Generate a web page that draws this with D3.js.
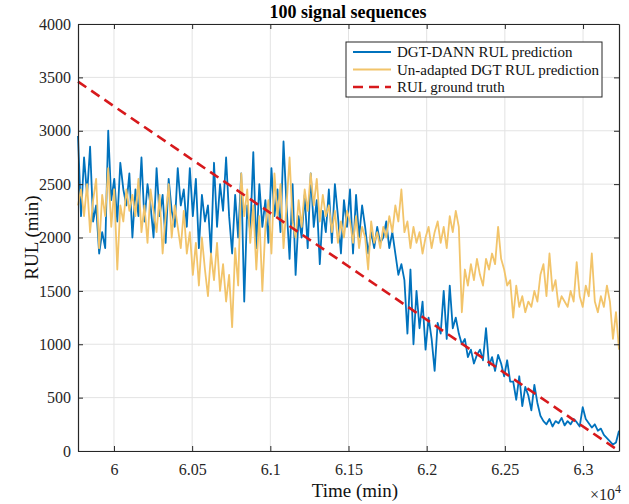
<!DOCTYPE html>
<html>
<head>
<meta charset="utf-8">
<script src="https://cdn.jsdelivr.net/npm/d3@7"></script>
<style>
  body { margin: 0; background: #fff; }
</style>
</head>
<body>
<div id="chart"></div>
<script>
// time range covered by the sequences (min)
var timeStart = 59770, timeEnd = 63230;

var xTicks = [60000, 60500, 61000, 61500, 62000, 62500, 63000];
var xTickLabels = ["6", "6.05", "6.1", "6.15", "6.2", "6.25", "6.3"];
var yTicks = [0, 500, 1000, 1500, 2000, 2500, 3000, 3500, 4000];

// DGT-DANN RUL prediction (equally spaced samples)
var dannRUL = [
  2950, 2200, 2750, 2400, 2850, 2150, 2300, 1850, 2050, 1900, 3000, 2350, 2550, 2150, 2700, 2450, 2300, 2600,
  2000, 2450, 2200, 2750, 2150, 2500, 2300, 2000, 2650, 2200, 2400, 1950, 2550, 2250, 2100, 2650, 2300, 2450,
  2100, 2650, 2200, 2550, 1900, 2400, 2150, 2300, 1850, 2700, 2100, 2500, 2250, 2750, 2200, 1850, 2400, 2000,
  2600, 1400, 2300, 2050, 2800, 1900, 2500, 2100, 2350, 1950, 2650, 2200, 2450, 2050, 2900, 2300, 1800, 2500,
  1650, 2200, 2000, 2400, 1900, 2600, 2100, 2350, 1750, 2250, 2050, 2450, 1950, 2500, 2200, 1850, 2350, 2100,
  2450, 1850, 2400, 2000, 2300, 2100, 1850, 2050, 1900, 2100, 1950, 2000, 2150, 1900, 2050, 1850, 1650, 1750,
  1600, 1100, 1700, 1000, 1500, 1150, 1400, 950, 1250, 1050, 750, 1200, 1100, 1500, 1050, 1550, 1150, 1250,
  1100, 1000, 1050, 880, 950, 820, 900, 950, 850, 1150, 800, 880, 750, 900, 820, 700, 850, 650,
  650, 480, 700, 420, 600, 520, 380, 620, 450, 330, 280, 250, 300, 230, 280, 260, 310, 240,
  280, 250, 300, 270, 230, 410, 300, 260, 220, 250, 190, 210, 150, 120, 90, 60, 80, 190
];

// Un-adapted DGT RUL prediction
var dgtRUL = [
  2300, 2450, 2200, 2500, 2050, 2350, 2550, 1900, 2400, 2200, 2650, 2100, 2450, 1700, 2300, 2150, 2450, 2250,
  2400, 2200, 2550, 2050, 2300, 1950, 2450, 2250, 2050, 2400, 1850, 2200, 2500, 2000, 2300, 2100, 1900, 2250,
  1850, 2050, 1650, 1950, 1550, 2000, 1700, 1450, 1850, 1600, 1950, 1500, 1750, 1400, 1650, 1160, 1900, 1550,
  2600, 2200, 2450, 1950, 2300, 1700, 2200, 1500, 2100, 2350, 1850, 2600, 2200, 2500, 1900, 2300, 2750, 2150,
  2000, 2350, 2100, 2450, 2250, 2600, 2300, 2550, 2150, 2400, 2200, 2300, 2050, 2250, 1950, 2150, 2000, 2250,
  2150, 1950, 2200, 1900, 2100, 2000, 1700, 2150, 1950, 2050, 1900, 2100, 2000, 2200, 2050, 2300, 2150, 2450,
  2050, 2150, 1900, 2100, 1950, 2050, 1850, 2000, 2100, 1900, 2050, 2150, 1950, 2100, 1900, 2200, 2050, 2250,
  2100, 1300, 1700, 1550, 1750, 1600, 1800, 1650, 1550, 1800, 1700, 1850, 1750, 2100, 1800, 1700, 1550, 1600,
  1250, 1550, 1350, 1450, 1300, 1400, 1350, 1500, 1400, 1650, 1750, 1450, 1850, 1500, 1600, 1350, 1450, 1400,
  1350, 1500, 1400, 1770, 1450, 1350, 1550, 1450, 1850, 1400, 1300, 1450, 1350, 1550, 1400, 1050, 1300, 950
];

// RUL ground truth (straight line)
var truthTime = [59770, 63230];
var truthRUL = [3460, 0];

var legendLabels = ["DGT-DANN RUL prediction", "Un-adapted DGT RUL prediction", "RUL ground truth"];
var colors = ["#0072BD", "#F2C46A", "#D7191C"];

var serif = "'Liberation Serif', 'Times New Roman', serif";
var width = 629, height = 504;
var margin = { top: 24, right: 10, bottom: 53, left: 78 };
var w = width - margin.left - margin.right;
var h = height - margin.top - margin.bottom;

var svg = d3.select("#chart").append("svg")
    .attr("width", width)
    .attr("height", height)
    .attr("font-family", serif);

var g = svg.append("g")
    .attr("transform", "translate(" + margin.left + "," + margin.top + ")");

var x = d3.scaleLinear().domain([timeStart, timeEnd]).range([0, w]);
var y = d3.scaleLinear().domain([0, 4000]).range([h, 0]);

// grid
g.append("g").selectAll("line").data(xTicks).join("line")
    .attr("x1", function(d) { return x(d); }).attr("x2", function(d) { return x(d); })
    .attr("y1", 0).attr("y2", h)
    .attr("stroke", "#e3e3e3").attr("stroke-width", 1);
g.append("g").selectAll("line").data(yTicks).join("line")
    .attr("y1", function(d) { return y(d); }).attr("y2", function(d) { return y(d); })
    .attr("x1", 0).attr("x2", w)
    .attr("stroke", "#e3e3e3").attr("stroke-width", 1);

// series
function seriesLine(vals) {
    var ix = d3.scaleLinear().domain([0, vals.length - 1]).range([timeStart, timeEnd]);
    return d3.line()
        .x(function(d, i) { return x(ix(i)); })
        .y(function(d) { return y(d); })(vals);
}

var plot = g.append("g");
plot.append("path").attr("d", seriesLine(dannRUL))
    .attr("fill", "none").attr("stroke", colors[0]).attr("stroke-width", 1.8)
    .attr("stroke-linejoin", "round");
plot.append("path").attr("d", seriesLine(dgtRUL))
    .attr("fill", "none").attr("stroke", colors[1]).attr("stroke-width", 1.8)
    .attr("stroke-linejoin", "round");
plot.append("path")
    .attr("d", d3.line()
        .x(function(d, i) { return x(truthTime[i]); })
        .y(function(d) { return y(d); })(truthRUL))
    .attr("fill", "none").attr("stroke", colors[2]).attr("stroke-width", 2.6)
    .attr("stroke-dasharray", "10,6");

// axes, MATLAB style box with inward ticks
var axisColor = "#262626";
var xAxis = d3.axisBottom(x).tickValues(xTicks).tickSizeInner(-5).tickSizeOuter(0)
    .tickFormat(function(d, i) { return xTickLabels[i]; }).tickPadding(13);
var yAxis = d3.axisLeft(y).tickValues(yTicks).tickSizeInner(-5).tickSizeOuter(0)
    .tickFormat(d3.format("d")).tickPadding(7);

g.append("g").attr("transform", "translate(0," + h + ")").call(xAxis);
g.append("g").call(yAxis);
g.append("g").call(d3.axisTop(x).tickValues(xTicks).tickSizeInner(-5).tickSizeOuter(0).tickFormat(""));
g.append("g").attr("transform", "translate(" + w + ",0)")
    .call(d3.axisRight(y).tickValues(yTicks).tickSizeInner(-5).tickSizeOuter(0).tickFormat(""));

g.selectAll(".domain").attr("stroke", axisColor).attr("stroke-width", 1.2);
g.selectAll(".tick line").attr("stroke", axisColor);
g.selectAll(".tick text").attr("fill", "#262626")
    .attr("font-size", 16).attr("font-family", serif);

// labels
svg.append("text").attr("x", 348).attr("y", 18)
    .attr("text-anchor", "middle").attr("font-size", 18).attr("font-weight", "bold")
    .attr("fill", "#000")
    .text("100 signal sequences");

svg.append("text").attr("x", 355).attr("y", 497)
    .attr("text-anchor", "middle").attr("font-size", 19).attr("fill", "#111")
    .text("Time (min)");

svg.append("text").attr("transform", "translate(38," + (margin.top + h / 2) + ") rotate(-90)")
    .attr("text-anchor", "middle").attr("font-size", 19).attr("fill", "#111")
    .text("RUL (min)");

var mult = svg.append("text").attr("x", 621).attr("y", 500).attr("text-anchor", "end")
    .attr("font-size", 16).attr("fill", "#262626");
mult.append("tspan").text("\u00d710");
mult.append("tspan").attr("dy", -7).attr("font-size", 12).text("4");

// legend
var leg = svg.append("g").attr("transform", "translate(346,42)");
leg.append("rect").attr("width", 256).attr("height", 55)
    .attr("fill", "#fff").attr("stroke", axisColor).attr("stroke-width", 1);
var rows = leg.selectAll("g.row").data(legendLabels).join("g")
    .attr("transform", function(d, i) { return "translate(0," + (10 + i * 17.5) + ")"; });
rows.append("line").attr("x1", 7).attr("x2", 45).attr("y1", 0).attr("y2", 0)
    .attr("stroke", function(d, i) { return colors[i]; })
    .attr("stroke-width", function(d, i) { return i === 2 ? 2.6 : 1.8; })
    .attr("stroke-dasharray", function(d, i) { return i === 2 ? "10,6" : null; });
rows.append("text").attr("x", 51).attr("y", 5)
    .attr("font-size", 15).attr("fill", "#111")
    .text(function(d) { return d; });
</script>
</body>
</html>
